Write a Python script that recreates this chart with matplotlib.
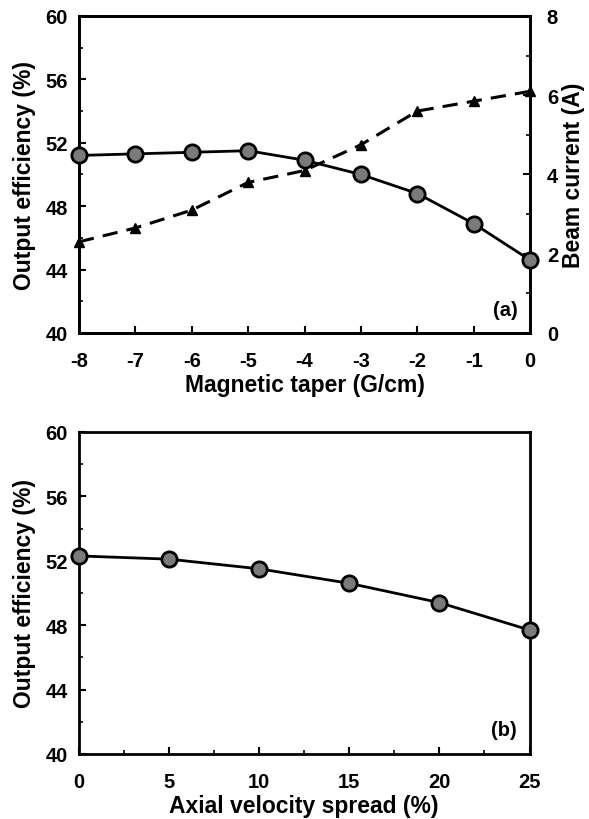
import numpy as np
import matplotlib.pyplot as plt
from matplotlib.ticker import MultipleLocator

plt.rcParams['font.family'] = ['Liberation Sans', 'DejaVu Sans']
plt.rcParams['font.weight'] = 'bold'
plt.rcParams['axes.unicode_minus'] = False

# (a) magnetic taper
taper = [-8, -7, -6, -5, -4, -3, -2, -1, 0]
eff_a = [51.2, 51.3, 51.4, 51.5, 50.9, 50.0, 48.8, 46.9, 44.6]
current_a = [2.3, 2.65, 3.1, 3.8, 4.1, 4.75, 5.6, 5.85, 6.1]

# (b) axial velocity spread
spread = [0, 5, 10, 15, 20, 25]
eff_b = [52.3, 52.1, 51.5, 50.6, 49.4, 47.7]

fig = plt.figure(figsize=(5.89, 8.2), dpi=100)
ax1 = fig.add_axes([0.134, 0.5927, 0.766, 0.3866])
ax2 = fig.add_axes([0.134, 0.0793, 0.765, 0.3927])

circ = dict(marker='o', markersize=11, markerfacecolor='#7a7a7a',
            markeredgecolor='black', markeredgewidth=2, color='black', lw=2,
            clip_on=False, zorder=4)


def style(ax):
    for s in ax.spines.values():
        s.set_linewidth(2)
    ax.tick_params(direction='in', length=5, width=1.5, labelsize=14.5)
    ax.tick_params(axis='x', pad=13)
    ax.tick_params(axis='y', pad=8)
    ax.tick_params(which='minor', direction='in', length=3, width=1.2)
    for t in ax.get_xticklabels() + ax.get_yticklabels():
        t.set_fontweight('bold')


ax1.plot(taper, eff_a, **circ)
ax1.set_xlim(-8, 0)
ax1.set_ylim(40, 60)
ax1.set_yticks([40, 44, 48, 52, 56, 60])
ax1.yaxis.set_minor_locator(MultipleLocator(2))
ax1.set_xticks(taper)
ax1.set_xlabel('Magnetic taper (G/cm)', fontsize=16.5, fontweight='bold', labelpad=2)
ax1.set_ylabel('Output efficiency (%)', fontsize=16.5, fontweight='bold', labelpad=7)
ax1.text(-0.22, 40.9, '(a)', ha='right', va='bottom', fontsize=14.5, fontweight='bold')
style(ax1)

ax1r = ax1.twinx()
ax1r.plot(taper, current_a, marker='^', markersize=7, color='black', ls=(0, (5, 3)),
          lw=2.2, clip_on=False, zorder=3)
ax1r.set_ylim(0, 8)
ax1r.set_yticks([0, 2, 4, 6, 8])
ax1r.yaxis.set_minor_locator(MultipleLocator(1))
ax1r.set_ylabel('Beam current (A)', fontsize=16.5, fontweight='bold', labelpad=3)
style(ax1r)
ax1r.tick_params(axis='y', pad=12)
ax1.set_zorder(ax1r.get_zorder() + 1)
ax1.patch.set_visible(False)

ax2.plot(spread, eff_b, **circ)
ax2.set_xlim(0, 25)
ax2.set_ylim(40, 60)
ax2.set_yticks([40, 44, 48, 52, 56, 60])
ax2.yaxis.set_minor_locator(MultipleLocator(2))
ax2.set_xticks(spread)
ax2.xaxis.set_minor_locator(MultipleLocator(2.5))
ax2.set_xlabel('Axial velocity spread (%)', fontsize=16.5, fontweight='bold', labelpad=2)
ax2.set_ylabel('Output efficiency (%)', fontsize=16.5, fontweight='bold', labelpad=7)
ax2.text(24.3, 40.9, '(b)', ha='right', va='bottom', fontsize=14.5, fontweight='bold')
style(ax2)

fig.savefig('out.png', dpi=100)
